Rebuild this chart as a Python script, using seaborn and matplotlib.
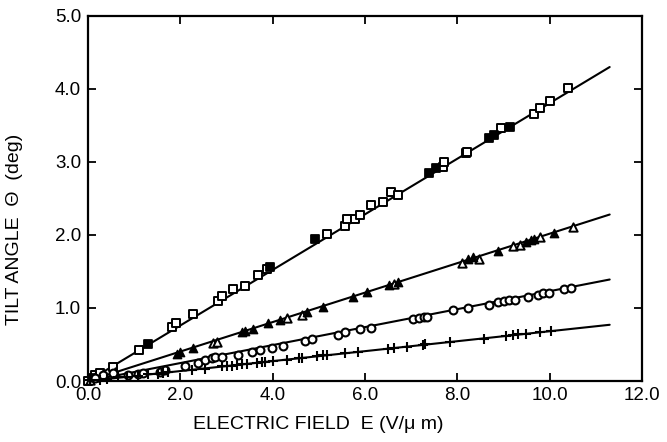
import numpy as np
import pandas as pd
import matplotlib
matplotlib.use("Agg")
import matplotlib.pyplot as plt
import seaborn as sns

# ------------------------------------------------------------------
# Data (E in V/um, tilt angle in deg)
# ------------------------------------------------------------------
sq_open_x = [0.0, 0.15, 0.26, 0.54, 1.11, 1.82, 1.91, 2.28, 2.82, 2.91, 3.15,
             3.41, 3.69, 3.88, 5.18, 5.57, 5.62, 5.79, 5.90, 6.14, 6.38, 6.57,
             6.72, 7.68, 7.72, 8.18, 8.20, 8.94, 9.67, 9.80, 10.00, 10.39]
sq_open_y = [0.0, 0.08, 0.11, 0.19, 0.42, 0.74, 0.79, 0.92, 1.10, 1.16, 1.26,
             1.30, 1.45, 1.53, 2.01, 2.12, 2.22, 2.22, 2.27, 2.41, 2.45, 2.59,
             2.55, 2.93, 3.00, 3.12, 3.14, 3.47, 3.66, 3.74, 3.84, 4.01]
sq_fill_x = [0.09, 1.30, 3.95, 4.92, 7.38, 7.53, 8.68, 8.79, 9.15]
sq_fill_y = [0.04, 0.51, 1.56, 1.95, 2.85, 2.92, 3.33, 3.37, 3.48]

tri_open_x = [0.04, 0.15, 0.33, 0.59, 2.71, 2.80, 4.32, 4.64, 6.62, 8.11,
              8.46, 9.20, 9.35, 9.80, 10.50]
tri_open_y = [0.01, 0.05, 0.10, 0.12, 0.52, 0.53, 0.86, 0.90, 1.33, 1.62,
              1.67, 1.85, 1.86, 1.97, 2.11]
tri_fill_x = [1.93, 2.00, 2.28, 3.34, 3.41, 3.58, 3.90, 4.16, 4.75, 5.08,
              5.75, 6.05, 6.51, 6.72, 8.24, 8.33, 8.87, 9.48, 9.59, 9.67, 10.09]
tri_fill_y = [0.37, 0.40, 0.45, 0.67, 0.68, 0.71, 0.79, 0.84, 0.95, 1.01,
              1.15, 1.22, 1.32, 1.36, 1.67, 1.70, 1.78, 1.90, 1.93, 1.95, 2.03]

circ_x = [0.15, 0.33, 0.54, 0.87, 1.08, 1.19, 1.56, 1.67, 2.10, 2.39, 2.54,
          2.69, 2.75, 2.91, 3.25, 3.56, 3.73, 3.99, 4.23, 4.71, 4.86, 5.42,
          5.57, 5.90, 6.12, 7.05, 7.16, 7.27, 7.35, 7.90, 8.24, 8.68, 8.89,
          9.00, 9.11, 9.24, 9.54, 9.74, 9.85, 9.98, 10.30, 10.46]
circ_y = [0.04, 0.08, 0.11, 0.08, 0.10, 0.11, 0.13, 0.15, 0.21, 0.25, 0.29,
          0.32, 0.33, 0.33, 0.36, 0.40, 0.42, 0.45, 0.48, 0.55, 0.58, 0.63,
          0.67, 0.71, 0.73, 0.85, 0.86, 0.88, 0.88, 0.97, 1.00, 1.04, 1.08,
          1.10, 1.11, 1.11, 1.15, 1.18, 1.21, 1.21, 1.26, 1.27]

plus_x = [0.04, 0.26, 0.41, 0.65, 0.85, 1.08, 1.30, 1.52, 1.63, 1.74, 2.26,
          2.54, 2.91, 3.02, 3.12, 3.23, 3.34, 3.45, 3.67, 3.77, 3.84, 4.01,
          4.32, 4.56, 4.64, 4.97, 5.08, 5.18, 5.57, 5.84, 6.49, 6.62, 6.92,
          7.25, 7.31, 7.85, 8.57, 9.05, 9.20, 9.31, 9.48, 9.80, 10.02]
plus_y = [0.01, 0.02, 0.03, 0.05, 0.06, 0.07, 0.09, 0.10, 0.11, 0.12, 0.15,
          0.17, 0.20, 0.21, 0.21, 0.22, 0.23, 0.23, 0.25, 0.26, 0.26, 0.27,
          0.29, 0.31, 0.32, 0.34, 0.35, 0.35, 0.38, 0.40, 0.44, 0.45, 0.47,
          0.49, 0.50, 0.53, 0.58, 0.62, 0.63, 0.64, 0.65, 0.67, 0.68]

# fitted straight lines (end points)
fit_x = [0.0, 11.3]
fit_sq = [0.0, 4.30]
fit_tri = [0.0, 2.28]
fit_circ = [0.0, 1.39]
fit_plus = [0.0, 0.77]

x_ticks = [0, 2, 4, 6, 8, 10, 12]
y_ticks = [0, 1, 2, 3, 4, 5]

sns.set_theme(style="ticks")
plt.rcParams["font.family"] = ["Liberation Sans", "DejaVu Sans"]

fig = plt.figure(figsize=(6.67, 4.42), dpi=100)
ax = fig.add_axes([0.132, 0.138, 0.8305, 0.826])

# ------------------------------------------------------------------
# Fit lines
# ------------------------------------------------------------------
for fy in (fit_sq, fit_tri, fit_circ, fit_plus):
    sns.lineplot(x=fit_x, y=fy, ax=ax, color="black", linewidth=1.5,
                 legend=False)

# ------------------------------------------------------------------
# Markers
# ------------------------------------------------------------------
kw = dict(ax=ax, legend=False, clip_on=False, zorder=3)
sns.scatterplot(x=sq_open_x, y=sq_open_y, marker="s", s=28,
                facecolor="white", edgecolor="black", linewidth=1.4, **kw)
sns.scatterplot(x=sq_fill_x, y=sq_fill_y, marker="s", s=32,
                color="black", edgecolor="black", linewidth=1.3, **kw)
sns.scatterplot(x=tri_open_x, y=tri_open_y, marker="^", s=36,
                facecolor="white", edgecolor="black", linewidth=1.4, **kw)
sns.scatterplot(x=tri_fill_x, y=tri_fill_y, marker="^", s=36,
                color="black", edgecolor="black", linewidth=1.0, **kw)
sns.scatterplot(x=circ_x, y=circ_y, marker="o", s=32,
                facecolor="white", edgecolor="black", linewidth=1.5, **kw)
sns.scatterplot(x=plus_x, y=plus_y, marker="+", s=55,
                color="black", linewidth=1.5, **kw)

# ------------------------------------------------------------------
# Axes styling
# ------------------------------------------------------------------
ax.set_xlim(0, 12)
ax.set_ylim(0, 5)
ax.set_xticks(x_ticks)
ax.set_yticks(y_ticks)
ax.set_xticklabels([f"{v:.1f}" for v in x_ticks])
ax.set_yticklabels([f"{v:.1f}" for v in y_ticks])
ax.tick_params(direction="in", length=6, width=1.3, labelsize=13.5,
               top=True, right=True, color="black", labelcolor="black")
ax.tick_params(axis="x", pad=4)
ax.tick_params(axis="y", pad=5)
for sp in ax.spines.values():
    sp.set_visible(True)
    sp.set_linewidth(1.6)
    sp.set_color("black")

ax.set_xlabel("ELECTRIC FIELD  E (V/\u03bc m)", fontsize=14, color="black")
ax.set_ylabel("TILT ANGLE  \u0398  (deg)", fontsize=14, color="black")
ax.xaxis.set_label_coords(0.415, -0.097)
ax.yaxis.set_label_coords(-0.117, 0.416)

fig.savefig("out.png", dpi=100)
